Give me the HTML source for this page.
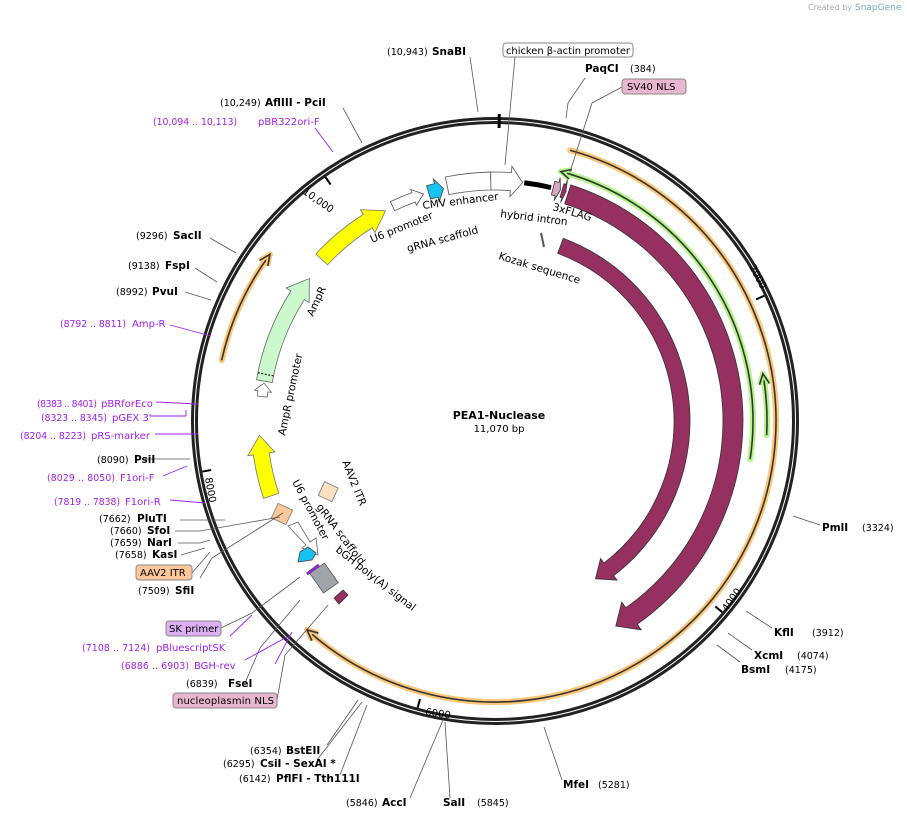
<!DOCTYPE html>
<html><head><meta charset="utf-8"><style>
html,body{margin:0;padding:0;background:#fff;}
svg{display:block;font-family:"DejaVu Sans","Liberation Sans",sans-serif;}
.n{font-size:9.5px;fill:#000}
.b{font-size:10.5px;font-weight:bold;fill:#000}
.p{font-size:10px;fill:#a020f0}
.q{font-size:9.3px;fill:#a020f0}
.f{font-size:10px;fill:#000}
.g2 text{font-size:10.5px}
</style></head><body>
<svg id="s" width="907" height="819" viewBox="0 0 907 819" xmlns="http://www.w3.org/2000/svg">
<text x="808" y="10" style="font-size:8px;fill:#aaa">Created by</text>
<text x="855" y="10" style="font-size:9px;fill:#7ab">SnapGene</text>
<g id="g"></g>
<text x="499" y="419" text-anchor="middle" style="font-size:11px;font-weight:bold">PEA1-Nuclease</text>
<text x="499" y="432" text-anchor="middle" style="font-size:10px">11,070 bp</text>

<g stroke="#555" stroke-width="0.8" fill="none">
<line x1="470" y1="57" x2="478" y2="112"/>
<line x1="515" y1="57" x2="505" y2="165"/>
<line x1="585" y1="78" x2="568" y2="103"/><line x1="568" y1="103" x2="566" y2="118"/>
<line x1="622" y1="87" x2="592" y2="103"/><line x1="592" y1="103" x2="570" y2="172"/>
<line x1="343" y1="108" x2="362" y2="143"/>
<line x1="210" y1="238" x2="236" y2="253"/>
<line x1="195" y1="268" x2="217" y2="282"/>
<line x1="185" y1="292" x2="211" y2="300"/>
<line x1="145" y1="459" x2="190" y2="459"/>
<line x1="180" y1="520" x2="225" y2="520"/>
<line x1="175" y1="531" x2="200" y2="531"/><line x1="178" y1="543" x2="200" y2="543"/><line x1="181" y1="555" x2="205" y2="548"/>
<line x1="200" y1="531" x2="280" y2="517"/><line x1="200" y1="543" x2="210" y2="540"/>
<line x1="192" y1="573" x2="210" y2="552"/>
<line x1="200" y1="578" x2="212" y2="558"/>
<line x1="212" y1="558" x2="283" y2="513"/>
<line x1="221" y1="628" x2="252" y2="613"/>
<line x1="252" y1="613" x2="300" y2="577"/>
<line x1="245" y1="683" x2="260" y2="648"/>
<line x1="260" y1="648" x2="300" y2="600"/>
<line x1="277" y1="700" x2="285" y2="655"/><line x1="285" y1="655" x2="328" y2="605"/>
<line x1="327" y1="745" x2="358" y2="700"/>
<line x1="317" y1="760" x2="362" y2="702"/>
<line x1="340" y1="775" x2="367" y2="705"/>
<line x1="410" y1="798" x2="443" y2="720"/>
<line x1="450" y1="798" x2="445" y2="722"/>
<line x1="562" y1="780" x2="544" y2="727"/>
<line x1="740" y1="662" x2="717" y2="645"/>
<line x1="752" y1="650" x2="728" y2="633"/>
<line x1="772" y1="628" x2="746" y2="611"/>
<line x1="820" y1="525" x2="793" y2="516"/>
</g>
<g stroke="#a020f0" stroke-width="0.9" fill="none">
<line x1="315" y1="128" x2="333" y2="152"/>
<line x1="170" y1="325" x2="211" y2="336"/>
<line x1="156" y1="402" x2="198" y2="404"/>
<line x1="150" y1="416" x2="186" y2="416"/><line x1="186" y1="410" x2="186" y2="416"/>
<line x1="155" y1="434" x2="198" y2="434"/>
<line x1="163" y1="476" x2="187" y2="466"/>
<line x1="170" y1="500" x2="205" y2="503"/>
<line x1="230" y1="636" x2="252" y2="615"/>
<line x1="245" y1="660" x2="287" y2="637"/>
<line x1="275" y1="664" x2="292" y2="632"/>
</g>

<text class="n" x="387" y="55">(10,943)</text><text class="b" x="432" y="55">SnaBI</text>
<rect x="503" y="43" width="130" height="14" rx="3" fill="#fff" stroke="#888"/>
<text class="f" x="506" y="54" textLength="124" lengthAdjust="spacingAndGlyphs">chicken β-actin promoter</text>
<text class="b" x="585" y="72">PaqCI</text><text class="n" x="630" y="72">(384)</text>
<rect x="622" y="79" width="64" height="15" rx="3" fill="#e8b6cf" stroke="#888"/>
<text class="f" x="627" y="90">SV40 NLS</text>
<text class="n" x="220" y="106">(10,249)</text><text class="b" x="265" y="106">AflIII  - PciI</text>
<text class="q" x="153" y="125">(10,094 .. 10,113)</text><text class="p" x="258" y="125">pBR322ori-F</text>
<text class="n" x="136" y="239">(9296)</text><text class="b" x="173" y="239">SacII</text>
<text class="n" x="128" y="269">(9138)</text><text class="b" x="165" y="269">FspI</text>
<text class="n" x="116" y="295">(8992)</text><text class="b" x="152" y="295">PvuI</text>
<text class="q" x="60" y="327" textLength="66">(8792 .. 8811)</text><text class="p" x="132" y="327">Amp-R</text>
<text class="q" x="37" y="407" textLength="60">(8383 .. 8401)</text><text class="p" x="101" y="407">pBRforEco</text>
<text class="q" x="41" y="421" textLength="66">(8323 .. 8345)</text><text class="p" x="112" y="421">pGEX 3'</text>
<text class="q" x="20" y="439" textLength="66">(8204 .. 8223)</text><text class="p" x="91" y="439">pRS-marker</text>
<text class="n" x="97" y="463">(8090)</text><text class="b" x="134" y="463">PsiI</text>
<text class="q" x="47" y="481" textLength="68">(8029 .. 8050)</text><text class="p" x="120" y="481">F1ori-F</text>
<text class="q" x="54" y="505" textLength="66">(7819 .. 7838)</text><text class="p" x="125" y="505">F1ori-R</text>
<text class="n" x="99" y="522">(7662)</text><text class="b" x="137" y="522">PluTI</text>
<text class="n" x="110" y="534">(7660)</text><text class="b" x="147" y="534">SfoI</text>
<text class="n" x="110" y="546">(7659)</text><text class="b" x="147" y="546">NarI</text>
<text class="n" x="115" y="558">(7658)</text><text class="b" x="152" y="558">KasI</text>
<rect x="136" y="565" width="56" height="15" rx="3" fill="#fcc79a" stroke="#888"/>
<text class="f" x="140" y="576">AAV2 ITR</text>
<text class="n" x="138" y="594">(7509)</text><text class="b" x="175" y="594">SfiI</text>
<rect x="166" y="621" width="55" height="15" rx="3" fill="#dcb0f3" stroke="#888"/>
<text class="f" x="169" y="632">SK primer</text>
<text class="q" x="82" y="651" textLength="68">(7108 .. 7124)</text><text class="p" x="156" y="651">pBluescriptSK</text>
<text class="q" x="121" y="669" textLength="68">(6886 .. 6903)</text><text class="p" x="194" y="669">BGH-rev</text>
<text class="n" x="186" y="687">(6839)</text><text class="b" x="228" y="687">FseI</text>
<rect x="173" y="693" width="104" height="15" rx="3" fill="#e8b6cf" stroke="#888"/>
<text class="f" x="177" y="704" textLength="97">nucleoplasmin NLS</text>
<text class="n" x="250" y="754">(6354)</text><text class="b" x="286" y="754">BstEII</text>
<text class="n" x="223" y="767">(6295)</text><text class="b" x="260" y="767">CsiI  - SexAI  *</text>
<text class="n" x="239" y="782">(6142)</text><text class="b" x="276" y="782">PflFI  - Tth111I</text>
<text class="n" x="346" y="806">(5846)</text><text class="b" x="382" y="806">AccI</text>
<text class="b" x="443" y="806">SalI</text><text class="n" x="477" y="806">(5845)</text>
<text class="b" x="563" y="788">MfeI</text><text class="n" x="598" y="788">(5281)</text>
<text class="b" x="741" y="673">BsmI</text><text class="n" x="785" y="673">(4175)</text>
<text class="b" x="754" y="659">XcmI</text><text class="n" x="797" y="659">(4074)</text>
<text class="b" x="774" y="636">KflI</text><text class="n" x="812" y="636">(3912)</text>
<text class="b" x="822" y="531">PmlI</text><text class="n" x="862" y="531">(3324)</text>

<g class="f g2">
<text x="423" y="209" transform="rotate(-7 423 209)">CMV enhancer</text>
<text x="500" y="217" transform="rotate(7 500 217)">hybrid intron</text>
<text x="552" y="210" transform="rotate(16 552 210)">3xFLAG</text>
<text x="498" y="259" transform="rotate(17 498 259)">Kozak sequence</text>
<text x="372" y="243" transform="rotate(-22 372 243)">U6 promoter</text>
<text x="408" y="252" transform="rotate(-15 408 252)">gRNA scaffold</text>
<text x="313" y="317" transform="rotate(-65 313 317)">AmpR</text>
<text x="285" y="436" transform="rotate(-78 285 436)">AmpR promoter</text>
<text x="342" y="462" transform="rotate(68 342 462)">AAV2 ITR</text>
<text x="292" y="482" transform="rotate(62 292 482)">U6 promoter</text>
<text x="316" y="507" transform="rotate(53 316 507)">gRNA scaffold</text>
<text x="335" y="551" transform="rotate(38 335 551)">bGH poly(A) signal</text>
</g>
<g style="font-size:10px">
<text x="302" y="193" transform="rotate(35 302 193)">10,000</text>
<text x="749" y="267" transform="rotate(62 749 267)">2000</text>
<text x="727" y="612" transform="rotate(-55 727 612)">4000</text>
<text x="425" y="715" transform="rotate(8 425 715)">6000</text>
<text x="205" y="478" transform="rotate(80 205 478)">8000</text>
</g>
</svg>
<script>
(function(){
var cx=495,cy=421,NS="http://www.w3.org/2000/svg",g=document.getElementById("g");
function P(r,a){a=a*Math.PI/180;return [cx+r*Math.sin(a),cy-r*Math.cos(a)];}
function el(t,at){var e=document.createElementNS(NS,t);for(var k in at)e.setAttribute(k,at[k]);g.appendChild(e);return e;}
function arc(r,a1,a2){var p=P(r,a1),q=P(r,a2),l=Math.abs(a2-a1)>180?1:0,sw=a2>a1?1:0;return "M"+p[0]+","+p[1]+" A"+r+","+r+" 0 "+l+" "+sw+" "+q[0]+","+q[1];}
function band(r,w,a1,a2,h,fill,stroke){
 var dir=a2>a1?1:-1,ab=a2-dir*h,ro=r+w/2,ri=r-w/2;
 var p1=P(ro,a1),p2=P(ro,ab),p3=P(ro+w*0.35,ab),t=P(r,a2),p4=P(ri-w*0.35,ab),p5=P(ri,ab),p6=P(ri,a1);
 var sw=dir>0?1:0,swr=dir>0?0:1,l=Math.abs(ab-a1)>180?1:0;
 var d="M"+p1+" A"+ro+","+ro+" 0 "+l+" "+sw+" "+p2+(h?" L"+p3+" L"+t+" L"+p4+" L"+p5:" L"+p5)+" A"+ri+","+ri+" 0 "+l+" "+swr+" "+p6+" Z";
 el("path",{d:d,fill:fill,stroke:stroke||"#555","stroke-width":0.8});
}
el("circle",{cx:cx,cy:cy,r:302.5,fill:"none",stroke:"#222","stroke-width":3});
el("circle",{cx:cx,cy:cy,r:298.5,fill:"none",stroke:"#222","stroke-width":3});
[65.04,130.08,195.1,260.2,325.2].forEach(function(t){var a=P(297,t),b=P(288,t);el("line",{x1:a[0],y1:a[1],x2:b[0],y2:b[1],stroke:"#000","stroke-width":2});});
el("line",{x1:P(307,0.8)[0],y1:P(307,0.8)[1],x2:P(293,0.8)[0],y2:P(293,0.8)[1],stroke:"#000","stroke-width":3});
function hl(r,a1,a2,col,arrowEnd){
 el("path",{d:arc(r,a1,a2),fill:"none",stroke:col,"stroke-width":6,"stroke-linecap":"round"});
 el("path",{d:arc(r,a1,a2),fill:"none",stroke:"#333","stroke-width":1.6});
 var dir=a2>a1?1:-1,at=arrowEnd?a2:a1,ad=arrowEnd?dir:-dir;var t=P(r,at),b1=P(r+5,at-ad*2.2),b2=P(r-5,at-ad*2.2);
 el("path",{d:"M"+b1+" L"+t+" L"+b2,fill:"none",stroke:col,"stroke-width":5,"stroke-linejoin":"round"});
 el("path",{d:"M"+b1+" L"+t+" L"+b2,fill:"none",stroke:"#333","stroke-width":1.6});
}
hl(281,15.5,222,"#fcc779",true);
hl(280,282.5,306.5,"#fcc779",true);
hl(258,98.5,14.8,"#b5f58a",true);
hl(272,93,80,"#b5f58a",true);
band(238,20,17.8,149.5,4.5,"#963060","#333");
band(187,16,20.5,147.5,5,"#963060","#333");
el("path",{d:arc(240,7,13.5),fill:"none",stroke:"#000","stroke-width":5});
band(240,14,14,15.8,0.8,"#d9a6c0","#333");
band(240,14,16.2,17.2,0.5,"#963060","#333");
band(240,18,348.5,359,0,"#fff","#555");
band(240,18,359,366.6,2.8,"#fff","#555");
band(238,10,334.5,342.5,2.5,"#fff","#555");
band(238,14,343.8,347.5,1.8,"#16c3f0","#444");
band(237,16,313,332.5,5,"#ffff00","#777");
band(234,16,279.8,307.5,5,"#ccf9cc","#666");
var d1=P(226,281.5),d2=P(242,281.5);el("line",{x1:d1[0],y1:d1[1],x2:d2[0],y2:d2[1],stroke:"#000","stroke-width":1,"stroke-dasharray":"2,1.5"});
band(234,10,276,279.3,2,"#fff","#666");
band(236,16,251.5,266.5,4.5,"#ffff00","#777");
el("rect",{x:274,y:506,width:16,height:16,fill:"#fcc79a",stroke:"#777","stroke-width":0.8,transform:"rotate(25 282 514)"});
el("rect",{x:321,y:484,width:15,height:15,fill:"#fde0c0",stroke:"#777","stroke-width":0.8,transform:"rotate(25 328 491)"});
el("path",{d:"M288,526 L298,522 L310,542 L316,538 L318,555 L302,548 L306,545 Z",fill:"#fff",stroke:"#666","stroke-width":0.8});
el("path",{d:"M300,552 L308,547 L316,553 L312,560 L298,562 Z",fill:"#16c3f0",stroke:"#444","stroke-width":0.8});
el("rect",{x:315,y:566,width:18,height:24,fill:"#a0a4aa",stroke:"#555","stroke-width":0.8,transform:"rotate(-35 324 578)"});
el("line",{x1:307,y1:574,x2:319,y2:565,stroke:"#8030c0","stroke-width":3});
el("path",{d:"M334,598 L343,590 L348,595 L339,604 Z",fill:"#963060",stroke:"#333","stroke-width":0.8});
el("line",{x1:541,y1:233,x2:544,y2:247,stroke:"#555","stroke-width":2});
})();
</script>
</body></html>
